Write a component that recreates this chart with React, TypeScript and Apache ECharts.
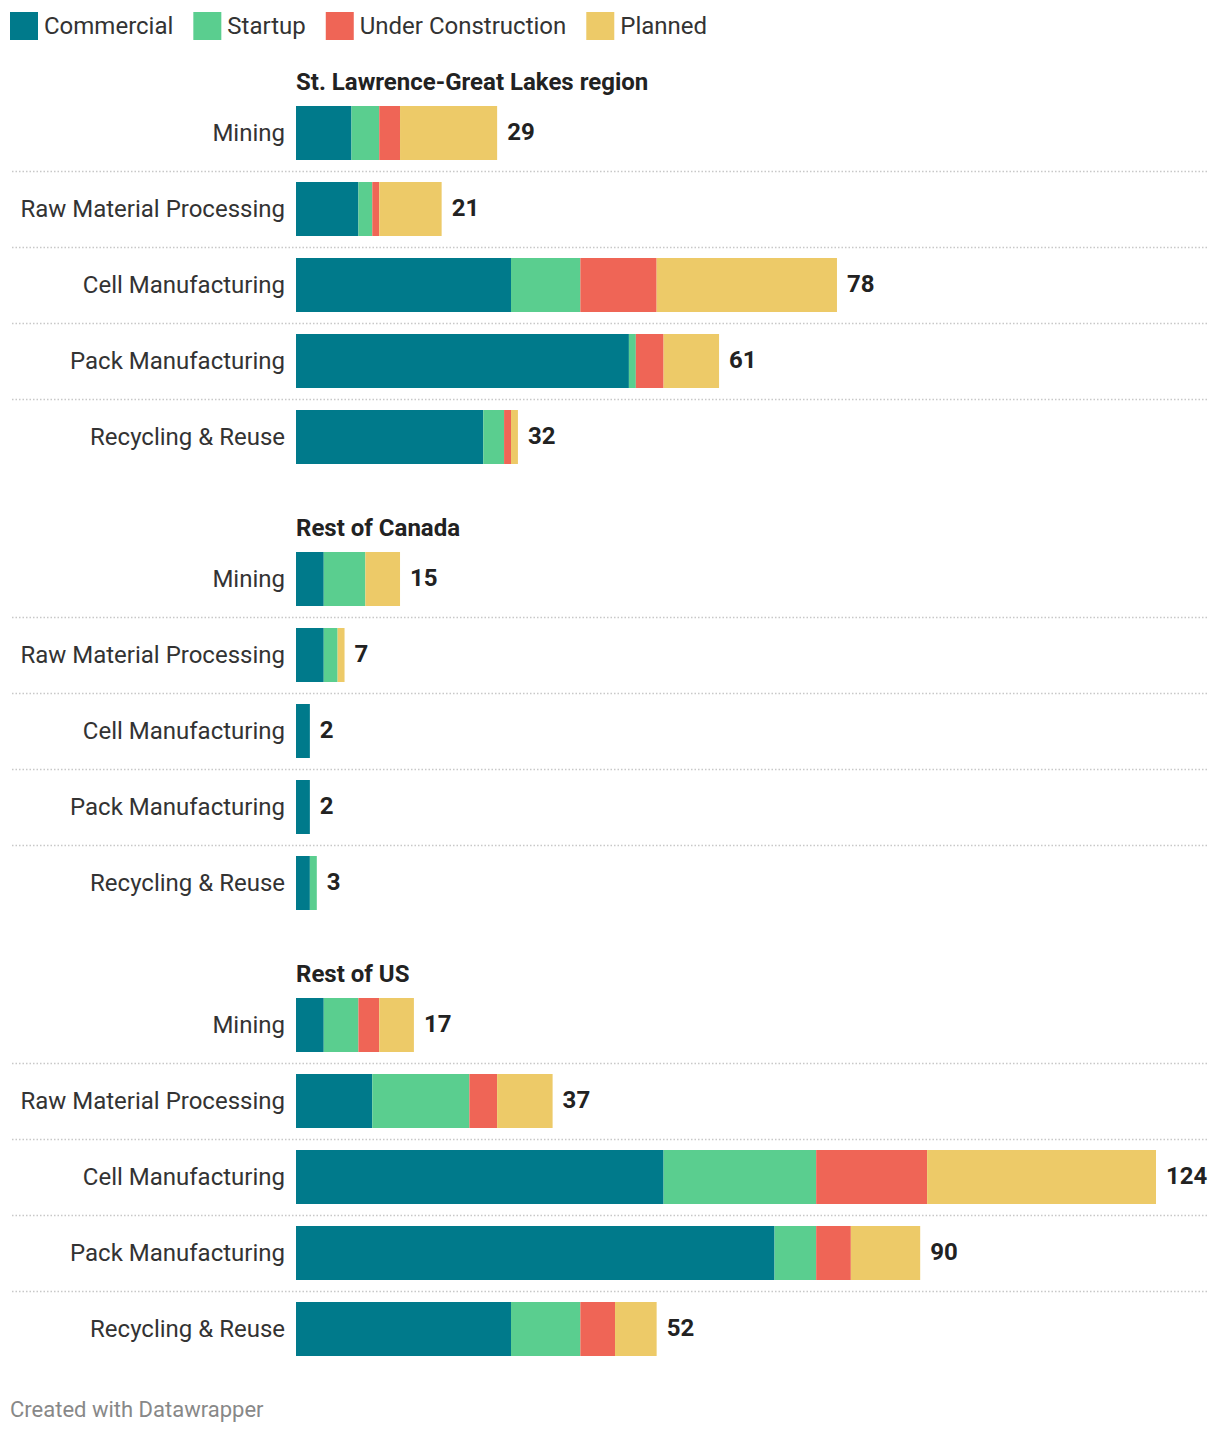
import React, { useEffect, useRef } from "react";
import * as echarts from "echarts";

const categories = ["Mining", "Raw Material Processing", "Cell Manufacturing", "Pack Manufacturing", "Recycling & Reuse"];
const regions = ["St. Lawrence-Great Lakes region", "Rest of Canada", "Rest of US"];
const seriesNames = ["Commercial", "Startup", "Under Construction", "Planned"];
const colors = ["#007a8b", "#5ace8f", "#ef6556", "#edca68"];

// values per region, per status
const stLawrenceCommercial = [8, 9, 31, 48, 27];
const stLawrenceStartup = [4, 2, 10, 1, 3];
const stLawrenceUnderConstruction = [3, 1, 11, 4, 1];
const stLawrencePlanned = [14, 9, 26, 8, 1];

const canadaCommercial = [4, 4, 2, 2, 2];
const canadaStartup = [6, 2, 0, 0, 1];
const canadaUnderConstruction = [0, 0, 0, 0, 0];
const canadaPlanned = [5, 1, 0, 0, 0];

const usCommercial = [4, 11, 53, 69, 31];
const usStartup = [5, 14, 22, 6, 10];
const usUnderConstruction = [3, 4, 16, 5, 5];
const usPlanned = [5, 8, 33, 10, 6];

const regionData = [
  [stLawrenceCommercial, stLawrenceStartup, stLawrenceUnderConstruction, stLawrencePlanned],
  [canadaCommercial, canadaStartup, canadaUnderConstruction, canadaPlanned],
  [usCommercial, usStartup, usUnderConstruction, usPlanned],
];

const FONT = "Roboto";
const GRID_TOPS = [95, 541, 987];
const GRID_H = 380;

export default function App() {
  const ref = useRef<HTMLDivElement>(null);
  useEffect(() => {
    if (!ref.current) return;
    const chart = echarts.init(ref.current, null, { renderer: "svg" });
    const grids: any[] = [];
    const xAxes: any[] = [];
    const yAxes: any[] = [];
    const series: any[] = [];
    const graphics: any[] = [];
    regionData.forEach((rd, gi) => {
      grids.push({ left: 296, right: 64, top: GRID_TOPS[gi], height: GRID_H });
      xAxes.push({ gridIndex: gi, type: "value", min: 0, max: 124, show: false });
      yAxes.push({
        gridIndex: gi,
        type: "category",
        data: categories,
        inverse: true,
        axisLine: { show: false },
        axisTick: { show: false },
        splitLine: { show: false },
        axisLabel: { fontSize: 24, fontFamily: FONT, color: "#333", margin: 11 },
      });
      rd.forEach((vals, si) => {
        series.push({
          type: "bar",
          name: seriesNames[si],
          xAxisIndex: gi,
          yAxisIndex: gi,
          stack: "s" + gi,
          barWidth: 54,
          itemStyle: { color: colors[si] },
          data: vals,
        });
      });
      const totals = categories.map((_, ci) => rd.reduce((s, arr) => s + arr[ci], 0));
      const n = categories.length;
      series.push({
        type: "custom",
        xAxisIndex: gi,
        yAxisIndex: gi,
        clip: false,
        silent: true,
        data: totals.map((t, i) => [t, i]),
        renderItem: (params: any, api: any) => {
          const total = api.value(0);
          const idx = api.value(1);
          const p = api.coord([total, idx]);
          const band = api.size([0, 1])[1];
          const children: any[] = [
            {
              type: "text",
              x: p[0] + 10,
              y: p[1] - 1,
              style: {
                text: String(total),
                fontSize: 24,
                fontWeight: "bold",
                fontFamily: FONT,
                fill: "#222",
                verticalAlign: "middle",
                align: "left",
              },
            },
          ];
          if (idx < n - 1) {
            const yy = Math.round(p[1] + band / 2) + 0.5;
            children.push({
              type: "line",
              shape: { x1: 12, y1: yy, x2: 1208, y2: yy },
              style: { stroke: "#c8c8c8", lineWidth: 1.5, lineDash: [1.5, 2] },
            });
          }
          return { type: "group", children };
        },
      });
      graphics.push({
        type: "text",
        x: 296,
        y: GRID_TOPS[gi] - 13,
        style: {
          text: regions[gi],
          fontSize: 24,
          fontWeight: "bold",
          fontFamily: FONT,
          fill: "#222",
          verticalAlign: "middle",
        },
      });
    });
    graphics.push({
      type: "text",
      x: 10,
      y: 1409,
      style: {
        text: "Created with Datawrapper",
        fontSize: 22,
        fontFamily: FONT,
        fill: "#888",
        verticalAlign: "middle",
      },
    });
    chart.setOption({
      animation: false,
      backgroundColor: "#fff",
      legend: {
        data: seriesNames,
        left: 10,
        top: 12,
        padding: 0,
        itemWidth: 28,
        itemHeight: 28,
        itemGap: 20,
        icon: "rect",
        selectedMode: false,
        textStyle: { fontSize: 24, fontFamily: FONT, color: "#333", padding: [0, 0, 0, 1] },
      },
      grid: grids,
      xAxis: xAxes,
      yAxis: yAxes,
      series,
      graphic: graphics,
    });
    return () => chart.dispose();
  }, []);
  return (
    <div
      ref={ref}
      style={{ position: "absolute", left: 0, top: 0, width: 1220, height: 1434, background: "#fff" }}
    />
  );
}
